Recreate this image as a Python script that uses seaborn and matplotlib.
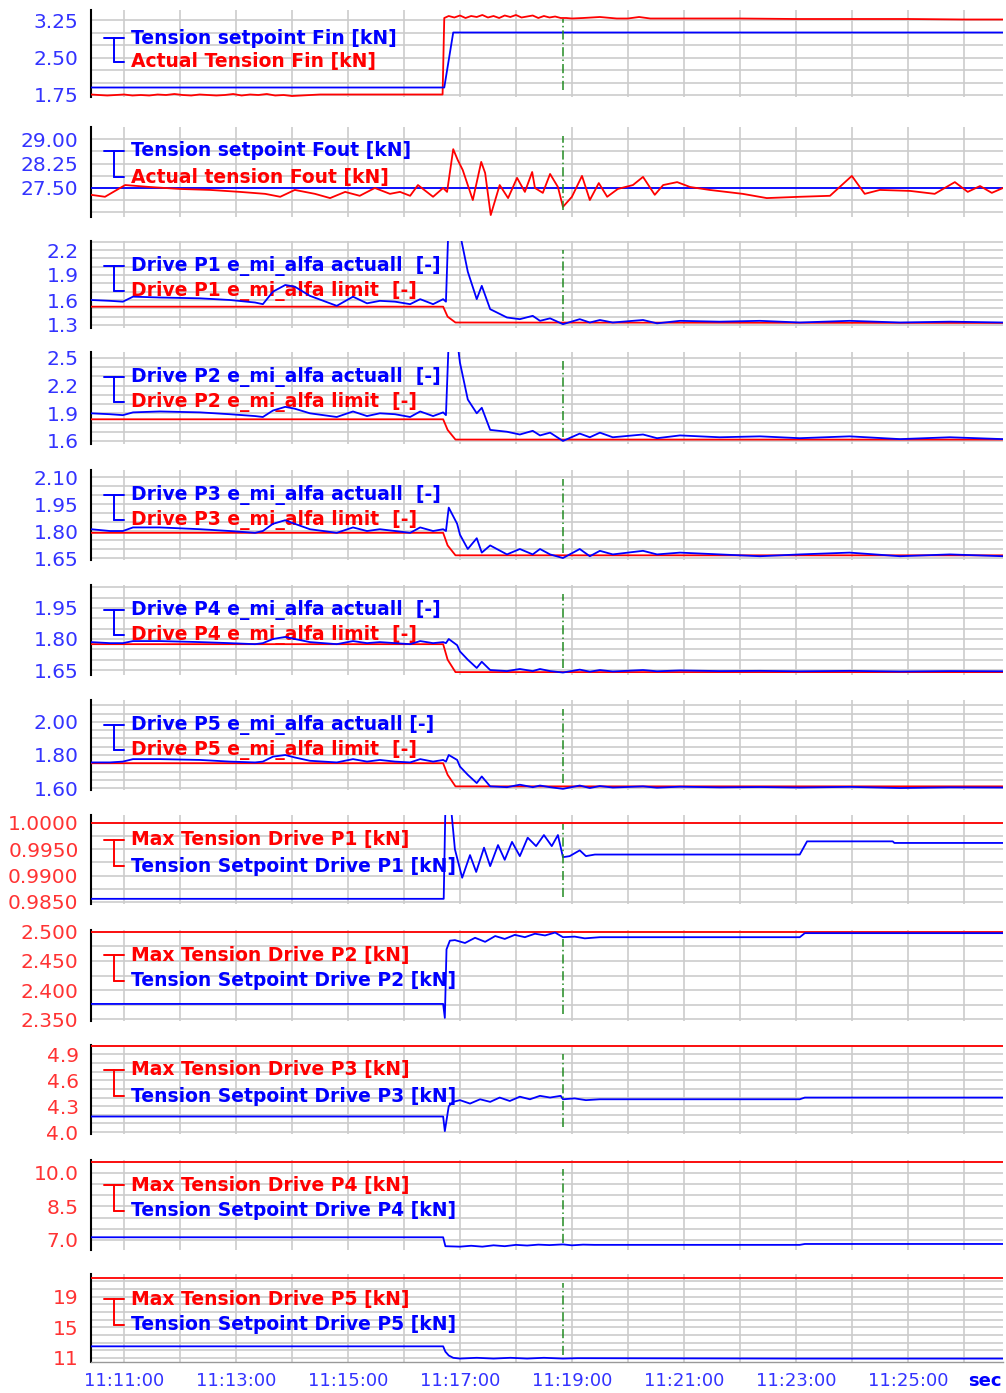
import numpy as np
import pandas as pd
import seaborn as sns
import matplotlib.pyplot as plt
from matplotlib.lines import Line2D
from matplotlib.ticker import FixedLocator, FormatStrFormatter

sns.set_style("white")
plt.rcParams["font.family"] = ["DejaVu Sans"]

BLUE = "#0000ff"
RED = "#ff0000"
TICK_BLUE = "#3333ff"
TICK_RED = "#ff3333"
GRID = "#cccccc"

# time axis: minutes after 11:00
T_START, T_END = 10.41, 26.70
T_MARK = 18.84
time_ticks = [11, 13, 15, 17, 19, 21, 23, 25]
time_labels = ["11:11:00", "11:13:00", "11:15:00", "11:17:00",
               "11:19:00", "11:21:00", "11:23:00", "11:25:00"]
time_minor = [12, 14, 16, 18, 20, 22, 24, 26]

# --- Tension Fin ---
fin_set_t = [10.41, 16.72, 16.88, 26.70]
fin_set_v = [1.90, 1.90, 3.00, 3.00]
fin_act_t = [10.41, 10.55, 10.70, 10.85, 11.00, 11.15, 11.30, 11.45, 11.60, 11.75,
             11.90, 12.05, 12.20, 12.35, 12.50, 12.65, 12.80, 12.95, 13.10, 13.25,
             13.40, 13.55, 13.70, 13.85, 14.00, 14.50, 15.00, 15.50, 16.00, 16.69,
             16.72, 16.80, 16.90, 17.00, 17.10, 17.20, 17.30, 17.40, 17.50, 17.60,
             17.70, 17.80, 17.90, 18.00, 18.10, 18.20, 18.30, 18.40, 18.50, 18.60,
             18.70, 18.80, 18.90, 19.00, 19.20, 19.50, 19.80, 20.00, 20.20, 20.40,
             21.00, 22.00, 23.00, 24.00, 25.00, 26.00, 26.70]
fin_act_v = [1.76, 1.75, 1.74, 1.75, 1.76, 1.74, 1.75, 1.74, 1.76, 1.75,
             1.77, 1.75, 1.74, 1.76, 1.75, 1.74, 1.75, 1.77, 1.74, 1.76,
             1.75, 1.77, 1.74, 1.75, 1.73, 1.76, 1.76, 1.76, 1.76, 1.76,
             3.29, 3.33, 3.30, 3.34, 3.29, 3.33, 3.31, 3.35, 3.30, 3.33,
             3.29, 3.34, 3.31, 3.35, 3.30, 3.32, 3.34, 3.29, 3.33, 3.30,
             3.32, 3.29, 3.29, 3.28, 3.29, 3.31, 3.28, 3.28, 3.31, 3.28,
             3.28, 3.28, 3.27, 3.27, 3.27, 3.26, 3.26]

# --- Tension Fout ---
fout_set_t = [10.41, 26.70]
fout_set_v = [27.50, 27.50]
fout_act_t = [10.41, 10.66, 11.02, 11.46, 12.00, 12.54, 13.07, 13.52, 13.79, 14.05,
              14.41, 14.68, 14.95, 15.21, 15.48, 15.75, 15.93, 16.11, 16.25, 16.52,
              16.70, 16.77, 16.88, 16.96, 17.05, 17.23, 17.38, 17.45, 17.55, 17.71,
              17.86, 18.02, 18.16, 18.29, 18.34, 18.48, 18.61, 18.75, 18.84, 19.00,
              19.18, 19.32, 19.48, 19.63, 19.82, 20.09, 20.27, 20.48, 20.63, 20.88,
              21.11, 21.46, 22.05, 22.48, 23.07, 23.61, 24.00, 24.23, 24.50, 25.04,
              25.48, 25.84, 26.07, 26.29, 26.50, 26.70]
fout_act_v = [27.29, 27.23, 27.59, 27.53, 27.47, 27.44, 27.38, 27.32, 27.23, 27.44,
              27.32, 27.19, 27.38, 27.26, 27.50, 27.32, 27.38, 27.26, 27.59, 27.23,
              27.50, 27.38, 28.69, 28.36, 28.05, 27.13, 28.30, 27.96, 26.67, 27.59,
              27.19, 27.81, 27.38, 27.99, 27.50, 27.35, 27.93, 27.53, 26.92, 27.23,
              27.87, 27.13, 27.65, 27.23, 27.47, 27.59, 27.84, 27.29, 27.59, 27.68,
              27.53, 27.44, 27.32, 27.19, 27.23, 27.26, 27.87, 27.32, 27.44, 27.41,
              27.32, 27.68, 27.38, 27.56, 27.35, 27.50]

# --- e_mi_alfa actual / limit, drives P1..P5 ---
alfa_t = [10.41, 10.75, 10.98, 11.16, 11.64, 12.36, 12.89, 13.34, 13.48, 13.66,
          13.88, 14.05, 14.32, 14.80, 15.09, 15.34, 15.57, 15.84, 16.11, 16.29,
          16.52, 16.70, 16.75, 16.80, 16.95, 17.00, 17.14, 17.30, 17.39, 17.54,
          17.84, 18.07, 18.30, 18.43, 18.61, 18.84, 19.14, 19.32, 19.50, 19.73,
          20.27, 20.52, 20.93, 21.64, 22.36, 23.07, 23.96, 24.86, 25.75, 26.70]
p1_act = [1.60, 1.59, 1.58, 1.64, 1.63, 1.62, 1.60, 1.57, 1.55, 1.70,
          1.78, 1.76, 1.65, 1.53, 1.64, 1.56, 1.59, 1.58, 1.55, 1.61,
          1.55, 1.61, 1.58, 2.60, 2.60, 2.40, 1.94, 1.61, 1.77, 1.49,
          1.39, 1.37, 1.41, 1.35, 1.38, 1.31, 1.37, 1.33, 1.36, 1.33,
          1.36, 1.32, 1.35, 1.34, 1.35, 1.33, 1.35, 1.33, 1.34, 1.33]
p2_act = [1.90, 1.89, 1.88, 1.91, 1.92, 1.91, 1.89, 1.87, 1.86, 1.93,
          1.97, 1.95, 1.90, 1.86, 1.92, 1.87, 1.90, 1.89, 1.86, 1.92,
          1.87, 1.91, 1.88, 2.70, 2.70, 2.45, 2.05, 1.90, 1.96, 1.72,
          1.70, 1.67, 1.71, 1.66, 1.69, 1.60, 1.68, 1.64, 1.69, 1.64,
          1.67, 1.63, 1.66, 1.64, 1.65, 1.63, 1.65, 1.62, 1.64, 1.62]
p3_act = [1.81, 1.80, 1.80, 1.82, 1.82, 1.81, 1.80, 1.79, 1.80, 1.84,
          1.86, 1.84, 1.81, 1.79, 1.82, 1.80, 1.81, 1.80, 1.79, 1.82,
          1.80, 1.81, 1.80, 1.93, 1.84, 1.78, 1.70, 1.76, 1.68, 1.72,
          1.67, 1.70, 1.67, 1.70, 1.67, 1.65, 1.70, 1.66, 1.69, 1.67,
          1.69, 1.67, 1.68, 1.67, 1.66, 1.67, 1.68, 1.66, 1.67, 1.66]
p4_act = [1.785, 1.78, 1.78, 1.79, 1.79, 1.785, 1.78, 1.775, 1.78, 1.80,
          1.81, 1.80, 1.785, 1.775, 1.79, 1.78, 1.785, 1.78, 1.775, 1.79,
          1.78, 1.785, 1.78, 1.80, 1.77, 1.74, 1.70, 1.66, 1.69, 1.65,
          1.645, 1.655, 1.645, 1.655, 1.645, 1.638, 1.652, 1.642, 1.65, 1.643,
          1.65, 1.644, 1.648, 1.645, 1.646, 1.644, 1.646, 1.643, 1.645, 1.644]
p5_act = [1.755, 1.755, 1.76, 1.775, 1.775, 1.77, 1.76, 1.755, 1.76, 1.79,
          1.80, 1.785, 1.765, 1.755, 1.775, 1.76, 1.77, 1.76, 1.755, 1.775,
          1.76, 1.77, 1.76, 1.80, 1.77, 1.73, 1.68, 1.63, 1.67, 1.61,
          1.605, 1.62, 1.605, 1.615, 1.605, 1.595, 1.615, 1.60, 1.612, 1.603,
          1.61, 1.602, 1.608, 1.604, 1.606, 1.603, 1.607, 1.60, 1.604, 1.603]
lim_t = [10.41, 16.70, 16.78, 16.92, 26.70]
p1_lim = [1.52, 1.52, 1.40, 1.33, 1.325]
p2_lim = [1.835, 1.835, 1.72, 1.615, 1.615]
p3_lim = [1.79, 1.79, 1.72, 1.665, 1.665]
p4_lim = [1.775, 1.775, 1.70, 1.64, 1.64]
p5_lim = [1.75, 1.75, 1.68, 1.61, 1.61]

# --- max tension / tension setpoint, drives P1..P5 ---
max_t = [10.41, 26.70]
p1_max = [1.0, 1.0]
p2_max = [2.5, 2.5]
p3_max = [5.0, 5.0]
p4_max = [10.5, 10.5]
p5_max = [21.5, 21.5]
p1_sp_t = [10.41, 16.71, 16.74, 16.84, 16.91, 17.04, 17.18, 17.29, 17.43, 17.54,
           17.68, 17.80, 17.93, 18.07, 18.21, 18.36, 18.50, 18.64, 18.75, 18.84,
           18.96, 19.14, 19.25, 19.41, 23.07, 23.20, 24.73, 24.76, 26.70]
p1_sp_v = [0.9856, 0.9856, 1.0030, 1.0030, 0.9950, 0.9896, 0.9939, 0.9907, 0.9953, 0.9918,
           0.9958, 0.9930, 0.9964, 0.9937, 0.9972, 0.9956, 0.9977, 0.9956, 0.9977, 0.9935,
           0.9937, 0.9948, 0.9937, 0.9940, 0.9940, 0.9965, 0.9965, 0.9962, 0.9962]
p2_sp_t = [10.41, 16.70, 16.73, 16.76, 16.82, 16.91, 17.09, 17.27, 17.45, 17.63,
           17.80, 17.98, 18.16, 18.34, 18.52, 18.70, 18.84, 19.05, 19.23, 19.50,
           23.07, 23.16, 26.70]
p2_sp_v = [2.376, 2.376, 2.352, 2.470, 2.485, 2.486, 2.481, 2.490, 2.483, 2.493,
           2.488, 2.495, 2.491, 2.497, 2.494, 2.499, 2.491, 2.492, 2.489, 2.491,
           2.491, 2.498, 2.498]
p3_sp_t = [10.41, 16.70, 16.73, 16.80, 16.88, 17.00, 17.18, 17.36, 17.54, 17.71,
           17.89, 18.07, 18.25, 18.43, 18.61, 18.80, 18.84, 19.05, 19.25, 19.50,
           23.07, 23.16, 26.70]
p3_sp_v = [4.18, 4.18, 4.01, 4.30, 4.35, 4.37, 4.33, 4.38, 4.35, 4.40,
           4.36, 4.41, 4.38, 4.42, 4.40, 4.42, 4.38, 4.39, 4.37, 4.38,
           4.38, 4.40, 4.40]
p4_sp_t = [10.41, 16.70, 16.74, 17.0, 17.2, 17.4, 17.6, 17.8, 18.0, 18.2,
           18.4, 18.6, 18.84, 19.0, 19.2, 19.4, 23.07, 23.16, 26.70]
p4_sp_v = [7.12, 7.12, 6.72, 6.70, 6.74, 6.70, 6.76, 6.72, 6.78, 6.75,
           6.79, 6.77, 6.80, 6.76, 6.79, 6.78, 6.78, 6.82, 6.82]
p5_sp_t = [10.41, 16.70, 16.74, 16.80, 16.88, 17.0, 17.3, 17.6, 17.9, 18.2,
           18.5, 18.84, 19.1, 23.07, 26.70]
p5_sp_v = [12.5, 12.5, 11.8, 11.3, 11.0, 10.9, 11.0, 10.9, 11.0, 10.9,
           11.0, 10.9, 10.95, 10.9, 10.9]

# y ticks per panel
yt_fin = [1.75, 2.50, 3.25]
yt_fout = [27.50, 28.25, 29.00]
yt_p1a = [1.3, 1.6, 1.9, 2.2]
yt_p2a = [1.6, 1.9, 2.2, 2.5]
yt_p3a = [1.65, 1.80, 1.95, 2.10]
yt_p4a = [1.65, 1.80, 1.95]
yt_p5a = [1.60, 1.80, 2.00]
yt_m1 = [0.985, 0.990, 0.995, 1.000]
yt_m2 = [2.350, 2.400, 2.450, 2.500]
yt_m3 = [4.0, 4.3, 4.6, 4.9]
yt_m4 = [7.0, 8.5, 10.0]
yt_m5 = [11, 15, 19]

W, H = 1006, 1393
X0, X1 = 91, 1003

alfa_names = ["P1", "P2", "P3", "P4", "P5"]
alfa_act = [p1_act, p2_act, p3_act, p4_act, p5_act]
alfa_lim = [p1_lim, p2_lim, p3_lim, p4_lim, p5_lim]
alfa_ticks = [yt_p1a, yt_p2a, yt_p3a, yt_p4a, yt_p5a]
alfa_minor = [0.1, 0.1, 0.05, 0.05, 0.05]
alfa_fmt = ["%.1f", "%.1f", "%.2f", "%.2f", "%.2f"]
alfa_ylim = [(1.264, 2.308), (1.567, 2.565), (1.639, 2.139), (1.626, 2.061), (1.588, 2.133)]
alfa_box = [(241, 328), (352, 444), (470, 560), (585, 675), (700, 790)]

max_vals = [p1_max, p2_max, p3_max, p4_max, p5_max]
sp_t = [p1_sp_t, p2_sp_t, p3_sp_t, p4_sp_t, p5_sp_t]
sp_v = [p1_sp_v, p2_sp_v, p3_sp_v, p4_sp_v, p5_sp_v]
max_ticks = [yt_m1, yt_m2, yt_m3, yt_m4, yt_m5]
max_minor = [0.0025, 0.025, 0.1, 0.5, 1.0]
max_fmt = ["%.4f", "%.3f", "%.1f", "%.1f", "%.0f"]
max_ylim = [(0.98462, 1.0015), (2.3466, 2.5034), (3.977, 5.01), (6.55, 10.58), (10.45, 21.97)]
max_box = [(815, 904), (930, 1021), (1045, 1134), (1160, 1250), (1274, 1362)]

panels = [
    dict(box=(10, 97), ylim=(1.71, 3.45), ticks=yt_fin, minor=0.25, fmt="%.2f", tc=TICK_BLUE,
         lines=[(fin_act_t, fin_act_v, RED), (fin_set_t, fin_set_v, BLUE)],
         legend=[("Tension setpoint Fin [kN]", BLUE), ("Actual Tension Fin [kN]", RED)], off=(28, 52)),
    dict(box=(127, 217), ylim=(26.61, 29.37), ticks=yt_fout, minor=0.375, fmt="%.2f", tc=TICK_BLUE,
         lines=[(fout_set_t, fout_set_v, BLUE), (fout_act_t, fout_act_v, RED)],
         legend=[("Tension setpoint Fout [kN]", BLUE), ("Actual tension Fout [kN]", RED)], off=(24, 50)),
]
for i, name in enumerate(alfa_names):
    sp = " " if name == "P5" else "  "
    panels.append(dict(box=alfa_box[i], ylim=alfa_ylim[i], ticks=alfa_ticks[i], minor=alfa_minor[i],
                       fmt=alfa_fmt[i], tc=TICK_BLUE,
                       lines=[(lim_t, alfa_lim[i], RED), (alfa_t, alfa_act[i], BLUE)],
                       legend=[(f"Drive {name} e_mi_alfa actuall{sp}[-]", BLUE),
                               (f"Drive {name} e_mi_alfa limit  [-]", RED)], off=(25, 50)))
for i, name in enumerate(alfa_names):
    panels.append(dict(box=max_box[i], ylim=max_ylim[i], ticks=max_ticks[i], minor=max_minor[i],
                       fmt=max_fmt[i], tc=TICK_RED,
                       lines=[(max_t, max_vals[i], RED), (sp_t[i], sp_v[i], BLUE)],
                       legend=[(f"Max Tension Drive {name} [kN]", RED),
                               (f"Tension Setpoint Drive {name} [kN]", BLUE)], off=(25, 51)))


def minor_ticks(major, step, lo, hi):
    base = major[0]
    k0 = int(np.floor((lo - base) / step)) - 1
    k1 = int(np.ceil((hi - base) / step)) + 1
    vals = [base + k * step for k in range(k0, k1 + 1)]
    return [v for v in vals if lo - 1e-9 <= v <= hi + 1e-9]


fig = plt.figure(figsize=(W / 100, H / 100), dpi=100)

for n, p in enumerate(panels):
    top, bot = p["box"]
    ax = fig.add_axes([X0 / W, 1 - bot / H, (X1 - X0) / W, (bot - top) / H])
    for t, v, c in p["lines"]:
        df = pd.DataFrame({"t": t, "v": v})
        sns.lineplot(data=df, x="t", y="v", ax=ax, color=c, lw=1.3,
                     estimator=None, sort=False, zorder=3)
    ax.axvline(T_MARK, ymin=0.08, ymax=0.9, color="#228b22", lw=1.1,
               linestyle=(0, (6, 2, 1, 2)), zorder=4)

    ax.set_xlim(T_START, T_END)
    ax.set_ylim(*p["ylim"])
    ax.set_xlabel("")
    ax.set_ylabel("")

    ax.yaxis.set_major_locator(FixedLocator(p["ticks"]))
    ax.yaxis.set_minor_locator(FixedLocator(minor_ticks(p["ticks"], p["minor"], *p["ylim"])))
    ax.yaxis.set_major_formatter(FormatStrFormatter(p["fmt"]))
    ax.xaxis.set_major_locator(FixedLocator(time_ticks))
    ax.xaxis.set_minor_locator(FixedLocator(time_minor))

    ax.grid(True, which="both", axis="both", color=GRID, lw=1.2, zorder=0)
    ax.set_axisbelow(True)
    for s in ["top", "right", "bottom"]:
        ax.spines[s].set_visible(False)
    ax.spines["left"].set_color("black")
    ax.spines["left"].set_linewidth(1.5)

    ax.tick_params(axis="y", which="major", length=7, width=1.3, color="black",
                   labelsize=14.5, labelcolor=p["tc"], pad=2)
    ax.tick_params(axis="y", which="minor", length=4, width=1.2, color="black")

    if n == len(panels) - 1:
        ax.set_xticklabels(time_labels)
        ax.tick_params(axis="x", which="major", length=7, width=1.3, color="black",
                       labelsize=13, labelcolor=TICK_BLUE, pad=0)
        ax.tick_params(axis="x", which="minor", length=4, width=1.3, color="black")
        ax.spines["bottom"].set_visible(True)
        ax.spines["bottom"].set_color("#999999")
        ax.spines["bottom"].set_linewidth(1.0)
    else:
        ax.tick_params(axis="x", which="both", length=0, labelbottom=False)

    # bracket legend
    y1 = top + p["off"][0]
    y2 = top + p["off"][1]
    bc = p["legend"][0][1]
    tf = fig.transFigure
    for xs, ys in [((104, 124), (y1, y1)), ((114, 114), (y1, y2)), ((114, 124), (y2, y2))]:
        ax.add_line(Line2D([x / W for x in xs], [1 - y / H for y in ys], color=bc, lw=1.4,
                           transform=tf, clip_on=False, zorder=2))
    for (label, col), yy in zip(p["legend"], (y1, y2)):
        ax.text(131 / W, 1 - yy / H, label, transform=tf, color=col, fontsize=13.5,
                fontweight="bold", va="center", ha="left", zorder=2)

fig.text(985 / W, 1 - 1381 / H, "sec", color=BLUE, fontsize=13, fontweight="bold",
         ha="center", va="center")

fig.savefig("out.png", dpi=100)
